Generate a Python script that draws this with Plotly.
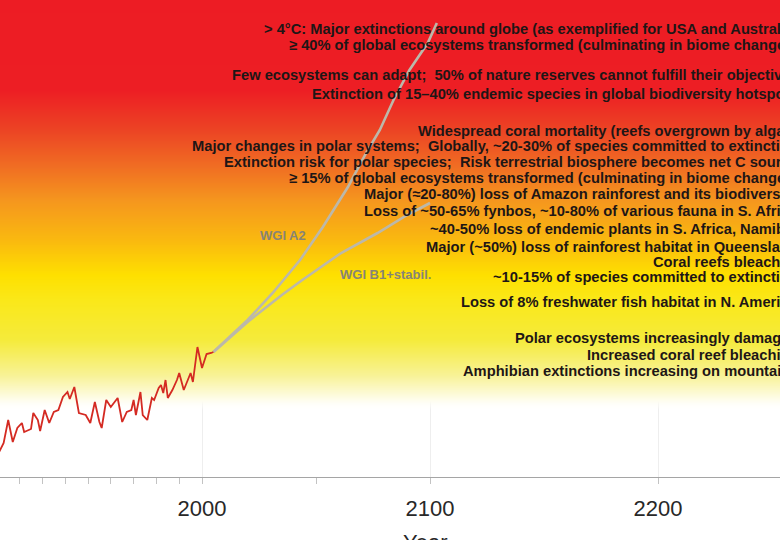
import plotly.graph_objects as go

OBS_YEARS = [1911, 1913, 1915, 1917, 1919, 1921, 1922, 1925, 1926, 1928, 1929, 1931, 1933, 1935,
             1937, 1939, 1941, 1942, 1944, 1946, 1949, 1951, 1953, 1955, 1956, 1958, 1960, 1963,
             1965, 1967, 1969, 1970, 1971, 1973, 1974, 1976, 1978, 1979, 1981, 1982, 1983, 1984,
             1985, 1987, 1989, 1990, 1992, 1995, 1996, 1998, 2000, 2002, 2004, 2005]
OBS_TEMP = [-0.25, -0.16, 0.07, -0.15, -0.01, 0.04, -0.05, -0.02, 0.14, 0.07, -0.04, 0.17, 0.04, 0.15,
            0.17, 0.30, 0.35, 0.28, 0.40, 0.14, 0.12, 0.04, 0.25, 0.05, -0.01, 0.27, 0.20, 0.29,
            0.05, 0.15, 0.17, 0.27, 0.12, 0.35, 0.12, 0.07, 0.29, 0.27, 0.39, 0.42, 0.34, 0.47,
            0.29, 0.37, 0.47, 0.54, 0.37, 0.54, 0.45, 0.80, 0.59, 0.73, 0.74, 0.75]

# projections
A2_YEARS = [2005, 2020, 2031, 2043, 2053, 2064, 2072, 2078, 2084, 2091, 2099, 2103]
A2_TEMP = [0.75, 1.07, 1.34, 1.67, 2.00, 2.40, 2.74, 2.97, 3.27, 3.57, 3.84, 4.04]
B1_YEARS = [2005, 2020, 2035, 2044, 2061, 2077, 2090, 2100]
B1_TEMP = [0.75, 1.05, 1.32, 1.47, 1.74, 1.94, 2.12, 2.24]

# impacts, each at its temperature level
IMPACT_TEXTS = [
    "> 4°C: Major extinctions around globe (as exemplified for USA and Australia)",
    "≥ 40% of global ecosystems transformed (culminating in biome changes)",
    "Few ecosystems can adapt;  50% of nature reserves cannot fulfill their objectives",
    "Extinction of 15–40% endemic species in global biodiversity hotspots",
    "Widespread coral mortality (reefs overgrown by algae)",
    "Major changes in polar systems;  Globally, ~20-30% of species committed to extinction",
    "Extinction risk for polar species;  Risk terrestrial biosphere becomes net C source",
    "≥ 15% of global ecosystems transformed (culminating in biome changes)",
    "Major (≈20-80%) loss of Amazon rainforest and its biodiversity",
    "Loss of ~50-65% fynbos, ~10-80% of various fauna in S. Africa",
    "~40-50% loss of endemic plants in S. Africa, Namibia",
    "Major (~50%) loss of rainforest habitat in Queensland",
    "Coral reefs bleached",
    "~10-15% of species committed to extinction",
    "Loss of 8% freshwater fish habitat in N. America",
    "Polar ecosystems increasingly damaged",
    "Increased coral reef bleaching",
    "Amphibian extinctions increasing on mountains",
]
IMPACT_LEVELS = [3.98, 3.82, 3.52, 3.33, 2.96, 2.81, 2.65, 2.49, 2.33, 2.16, 1.98, 1.80,
                 1.65, 1.50, 1.25, 0.89, 0.72, 0.56]

TICK_YEARS = [2000, 2100, 2200]
MINOR_YEARS = [1920, 1930, 1940, 1950, 1960, 1970, 1980, 1990, 2050]

FONT = "Liberation Sans, Arial, sans-serif"
X_RANGE = [1911.4, 2253.5]
Y_RANGE = [-0.5, 4.27]

# background: red at the top fading through orange and yellow to white
GRAD_LEVELS = [-0.6, 0.17, 0.27, 0.52, 0.87, 1.27, 1.52, 1.87, 2.27, 2.62, 2.97, 3.37, 4.4]
GRAD_COLORS = ["rgba(255,255,255,0)", "rgba(255,255,255,0)", "rgb(254,253,238)", "rgb(248,242,150)",
               "rgb(245,235,60)", "rgb(250,232,25)", "rgb(254,224,0)", "rgb(250,185,15)",
               "rgb(245,150,30)", "rgb(240,108,35)", "rgb(236,68,36)", "rgb(237,30,36)",
               "rgb(237,28,36)"]

lo, hi = GRAD_LEVELS[0], GRAD_LEVELS[-1]
colorscale = [[(v - lo) / (hi - lo), c] for v, c in zip(GRAD_LEVELS, GRAD_COLORS)]

fig = go.Figure()

fig.add_trace(
    go.Heatmap(
        x=[1900, 2300],
        y=GRAD_LEVELS,
        z=[[v, v] for v in GRAD_LEVELS],
        zmin=lo,
        zmax=hi,
        colorscale=colorscale,
        zsmooth="best",
        showscale=False,
        hoverinfo="skip",
    )
)

for years, temps in [(A2_YEARS, A2_TEMP), (B1_YEARS, B1_TEMP)]:
    fig.add_trace(
        go.Scatter(
            x=years,
            y=temps,
            mode="lines",
            line=dict(color="rgb(188,184,170)", width=2.6),
            hoverinfo="skip",
            showlegend=False,
        )
    )

fig.add_trace(
    go.Scatter(
        x=OBS_YEARS,
        y=OBS_TEMP,
        mode="lines",
        line=dict(color="rgb(212,42,34)", width=1.8),
        showlegend=False,
    )
)

for text, level in zip(IMPACT_TEXTS, IMPACT_LEVELS):
    fig.add_annotation(
        x=800 / 780,
        xref="paper",
        y=level,
        yref="y",
        text=text,
        showarrow=False,
        xanchor="right",
        yanchor="middle",
        font=dict(family=FONT, size=14.7, color="rgb(30,22,22)", weight="bold"),
    )

label_font = dict(family=FONT, size=13, color="rgb(135,132,118)", weight="bold")
fig.add_annotation(x=2035.5, y=1.92, text="WGI A2", showarrow=False, font=label_font)
fig.add_annotation(x=2080.3, y=1.53, text="WGI B1+stabil.", showarrow=False, font=label_font)

fig.add_annotation(
    x=425 / 780,
    xref="paper",
    y=-51 / 477,
    yref="paper",
    text="Year",
    showarrow=False,
    yanchor="top",
    font=dict(family=FONT, size=22, color="rgb(40,40,40)"),
)

fig.update_xaxes(
    range=X_RANGE,
    showline=True,
    linecolor="rgb(165,165,165)",
    linewidth=1,
    ticks="outside",
    ticklen=6,
    tickcolor="rgb(195,195,195)",
    tickvals=TICK_YEARS,
    ticktext=[str(y) for y in TICK_YEARS],
    tickfont=dict(family=FONT, size=22, color="rgb(40,40,40)"),
    ticklabelstandoff=6,
    showgrid=True,
    gridcolor="rgb(238,238,238)",
    zeroline=False,
    minor=dict(tickvals=MINOR_YEARS, ticks="outside", ticklen=6, tickcolor="rgb(195,195,195)", showgrid=False),
)
fig.update_yaxes(range=Y_RANGE, visible=False, showgrid=False, zeroline=False)

fig.update_layout(
    width=780,
    height=540,
    margin=dict(l=0, r=0, t=0, b=63, pad=0),
    plot_bgcolor="white",
    paper_bgcolor="white",
    showlegend=False,
)

# page body has a default 8px margin; drop it so the figure fills the window
fig.write_html(
    "out.html",
    config={"displayModeBar": False},
    post_script="document.body.style.margin = '0';",
)
